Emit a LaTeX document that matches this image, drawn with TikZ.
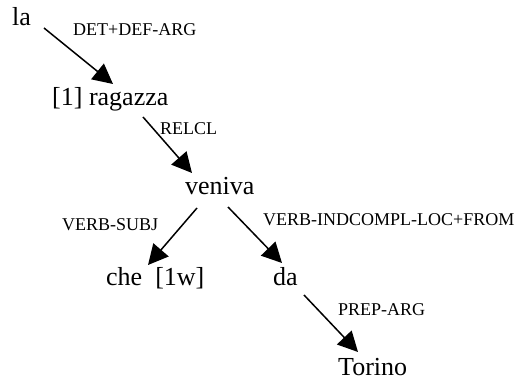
\documentclass[tikz,border=0pt]{standalone}
\usepackage{fontspec}
\setmainfont{Liberation Serif}
\usetikzlibrary{arrows.meta}
\tikzset{
  word/.style={anchor=base west, inner sep=0pt, font=\fontsize{26}{30}\selectfont},
  lbl/.style={anchor=base west, inner sep=0pt, font=\fontsize{18}{21}\selectfont},
  arr/.style={line width=1.5pt, -{Triangle[length=20pt,width=20pt]}}
}
\begin{document}
\begin{tikzpicture}[x=1pt,y=-1pt]
\useasboundingbox (0,0) rectangle (527,379);
\node[word] (la) at (12,26) {la};
\node[word] (rag) at (52,106) {[1] ragazza};
\node[word] (ven) at (185,195) {veniva};
\node[word] (che) at (106,285) {che\hspace{0.5em}[1w]};
\node[word] (da) at (273,285) {da};
\node[word] (tor) at (338,375) {Torino};
\node[lbl] (l1) at (73,36) {DET+DEF-ARG};
\node[lbl] (l2) at (160,135) {RELCL};
\node[lbl] (l3) at (62,231) {VERB-SUBJ};
\node[lbl] (l4) at (263,226) {VERB-INDCOMPL-LOC+FROM};
\node[lbl] (l5) at (338,315) {PREP-ARG};
\draw[arr] ([shift={(32,2)}]la.base west) -- ([shift={(61,-22)}]rag.base west);
\draw[arr] ([shift={(91,11)}]rag.base west) -- ([shift={(7,-22)}]ven.base west);
\draw[arr] ([shift={(12,13)}]ven.base west) -- ([shift={(42,-20)}]che.base west);
\draw[arr] ([shift={(43,12)}]ven.base west) -- ([shift={(9,-22)}]da.base west);
\draw[arr] ([shift={(31,10)}]da.base west) -- ([shift={(20,-23)}]tor.base west);
\end{tikzpicture}
\end{document}
